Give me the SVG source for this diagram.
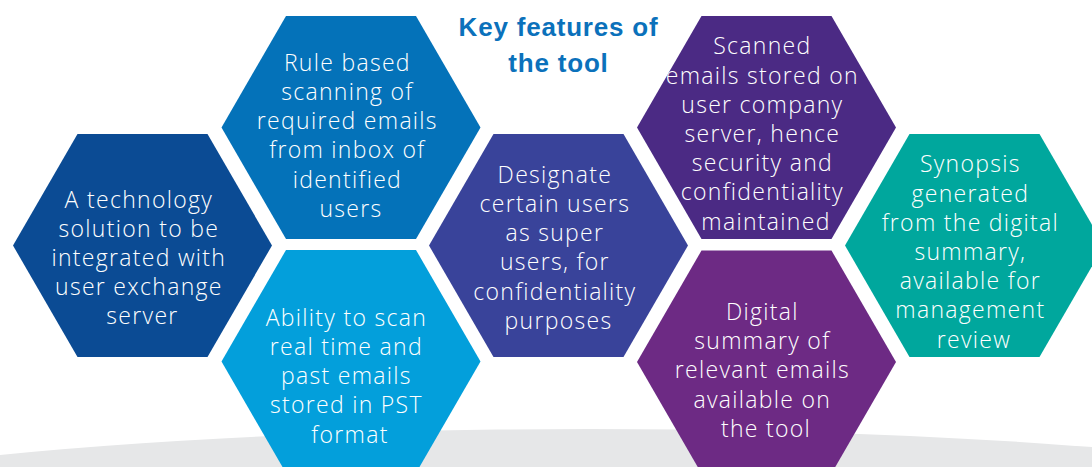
<svg xmlns="http://www.w3.org/2000/svg" width="1092" height="467" viewBox="0 0 1092 467">
  <style>
    .lbl { font-family: "Open Sans", "Liberation Sans", Arial, sans-serif; font-weight: 300; font-size: 23px; fill: #ffffff; text-anchor: middle; letter-spacing: 1.3px; }
    .title { font-family: "Liberation Sans", Arial, sans-serif; font-weight: bold; font-size: 26px; fill: #0b71bb; text-anchor: middle; letter-spacing: 0.8px; }
  </style>
  <defs>
    <polygon id="hex" points="-129.5,0 -65,-111.5 65,-111.5 129.5,0 65,111.5 -65,111.5"/>
  </defs>
  <rect width="1092" height="467" fill="#ffffff"/>
  <ellipse cx="590" cy="549" rx="950" ry="120" fill="#e6e7e8"/>

  <g id="title">
    <text class="title" x="558.5" y="36">Key features of</text>
    <text class="title" x="558.5" y="72">the tool</text>
  </g>

  <g id="node-technology">
    <use href="#hex" x="142.5" y="245.5" fill="#0b4b94"/>
    <text class="lbl" y="207.5">
      <tspan x="142.5">A technology</tspan>
      <tspan x="142.5" dy="29.2">solution to be</tspan>
      <tspan x="142.5" dy="29.2">integrated with</tspan>
      <tspan x="142.5" dy="29.2">user exchange</tspan>
      <tspan x="142.5" dy="29.2">server</tspan>
    </text>
  </g>

  <g id="node-rule-scanning">
    <use href="#hex" x="351" y="127.5" fill="#0472b9"/>
    <text class="lbl" y="70.7">
      <tspan x="351">Rule based</tspan>
      <tspan x="351" dy="29.2">scanning of</tspan>
      <tspan x="351" dy="29.2">required emails</tspan>
      <tspan x="351" dy="29.2">from inbox of</tspan>
      <tspan x="351" dy="29.2">identified</tspan>
      <tspan x="351" dy="29.2">users</tspan>
    </text>
  </g>

  <g id="node-scan-pst">
    <use href="#hex" x="351" y="361.5" fill="#039fdb"/>
    <text class="lbl" y="325.7">
      <tspan x="350">Ability to scan</tspan>
      <tspan x="350" dy="29.2">real time and</tspan>
      <tspan x="350" dy="29.2">past emails</tspan>
      <tspan x="350" dy="29.2">stored in PST</tspan>
      <tspan x="350" dy="29.2">format</tspan>
    </text>
  </g>

  <g id="node-super-users">
    <use href="#hex" x="558.5" y="245.5" fill="#39439a"/>
    <text class="lbl" y="182.7">
      <tspan x="558.5">Designate</tspan>
      <tspan x="558.5" dy="29.2">certain users</tspan>
      <tspan x="558.5" dy="29.2">as super</tspan>
      <tspan x="558.5" dy="29.2">users, for</tspan>
      <tspan x="558.5" dy="29.2">confidentiality</tspan>
      <tspan x="558.5" dy="29.2">purposes</tspan>
    </text>
  </g>

  <g id="node-stored-on-server">
    <use href="#hex" x="766.5" y="127.5" fill="#4b2a84"/>
    <text class="lbl" y="54.3">
      <tspan x="766">Scanned</tspan>
      <tspan x="766" dy="29.2">emails stored on</tspan>
      <tspan x="766" dy="29.2">user company</tspan>
      <tspan x="766" dy="29.2">server, hence</tspan>
      <tspan x="766" dy="29.2">security and</tspan>
      <tspan x="766" dy="29.2">confidentiality</tspan>
      <tspan x="766" dy="29.2">maintained</tspan>
    </text>
  </g>

  <g id="node-digital-summary">
    <use href="#hex" x="766.5" y="362" fill="#6d2a84"/>
    <text class="lbl" y="320">
      <tspan x="766">Digital</tspan>
      <tspan x="766" dy="29.2">summary of</tspan>
      <tspan x="766" dy="29.2">relevant emails</tspan>
      <tspan x="766" dy="29.2">available on</tspan>
      <tspan x="766" dy="29.2">the tool</tspan>
    </text>
  </g>

  <g id="node-synopsis">
    <use href="#hex" x="974.5" y="245.5" fill="#00a79d"/>
    <text class="lbl" y="172.3">
      <tspan x="974">Synopsis</tspan>
      <tspan x="974" dy="29.2">generated</tspan>
      <tspan x="974" dy="29.2">from the digital</tspan>
      <tspan x="974" dy="29.2">summary,</tspan>
      <tspan x="974" dy="29.2">available for</tspan>
      <tspan x="974" dy="29.2">management</tspan>
      <tspan x="974" dy="29.2">review</tspan>
    </text>
  </g>
</svg>
